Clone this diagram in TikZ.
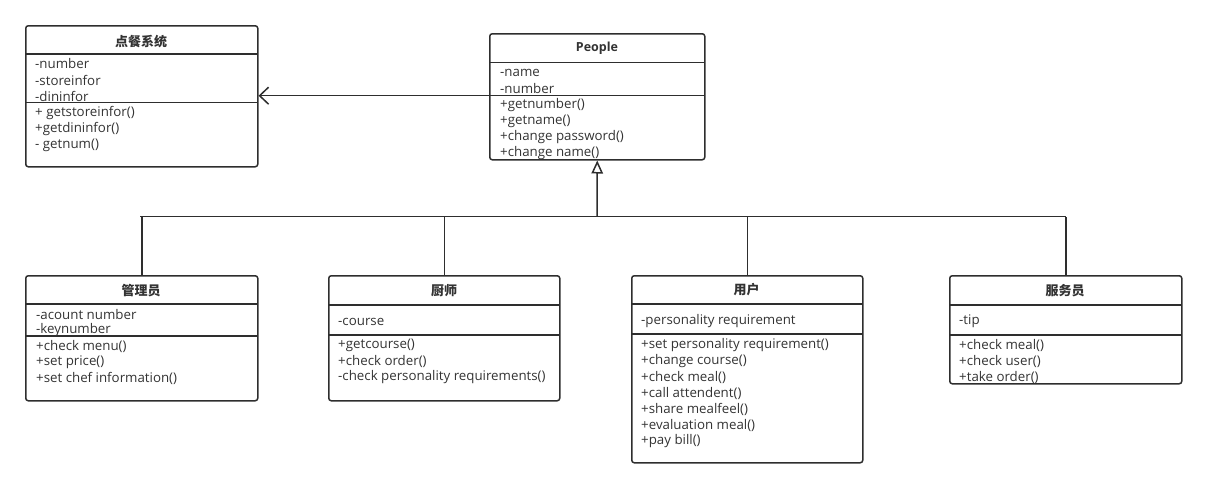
\documentclass[tikz,border=0pt]{standalone}
\usepackage{fontspec}
\setmainfont{Open Sans}
\newfontfamily\cjk{Noto Sans CJK SC}
\usetikzlibrary{arrows.meta}
\definecolor{ink}{HTML}{2E2E2E}
\definecolor{txt}{HTML}{333333}
\tikzset{
  clsbox/.style={draw=ink, line width=1.5pt, rounded corners=2.5pt},
  divline/.style={draw=ink, line width=1.5pt},
  mtext/.style={anchor=west, inner sep=0pt, text=txt, font=\fontsize{13.3}{15}\selectfont},
  ttext/.style={anchor=center, inner sep=0pt, text=txt, font=\fontsize{12.5}{15}\selectfont\bfseries},
  ctext/.style={anchor=center, inner sep=0pt, text=txt, font=\cjk\fontsize{13}{15}\selectfont\bfseries},
  conn/.style={draw=ink, line width=1.5pt},
}
\begin{document}
\begin{tikzpicture}[x=1pt, y=-1pt]
\useasboundingbox (0,0) rectangle (1206,488);

% ---------- 点餐系统 ----------
\node[clsbox, minimum width=232pt, minimum height=141pt, anchor=north west] (sys) at (25,25) {};
\draw[divline] (25,54) -- (257,54);
\draw[divline] (25,102.7) -- (257,102.7);
\node[ctext] (sysT) at (141,41.5) {点餐系统};
\node[mtext] (sysA1) at (35,63.5) {-number};
\node[mtext] (sysA2) at (35,80) {-storeinfor};
\node[mtext] (sysA3) at (35,96) {-dininfor};
\node[mtext] (sysM1) at (35,113) {+ getstoreinfor()};
\node[mtext] (sysM2) at (35,129) {+getdininfor()};
\node[mtext] (sysM3) at (35,145) {- getnum()};

% ---------- People ----------
\node[clsbox, minimum width=215pt, minimum height=126pt, anchor=north west] (peo) at (489,33) {};
\draw[divline] (489,62.5) -- (704,62.5);
\draw[divline] (489,95.5) -- (704,95.5);
\node[ttext] (peoT) at (597,48.5) {People};
\node[mtext] (peoA1) at (500,72.5) {-name};
\node[mtext] (peoA2) at (500,88.5) {-number};
\node[mtext] (peoM1) at (500,105) {+getnumber()};
\node[mtext] (peoM2) at (500,121) {+getname()};
\node[mtext] (peoM3) at (500,137) {+change password()};
\node[mtext] (peoM4) at (500,153) {+change name()};

% ---------- 管理员 ----------
\node[clsbox, minimum width=232pt, minimum height=125pt, anchor=north west] (adm) at (25,275) {};
\draw[divline] (25,304) -- (257,304);
\draw[divline] (25,336) -- (257,336);
\node[ctext] (admT) at (141,290.5) {管理员};
\node[mtext] (admA1) at (36,314.5) {-acount number};
\node[mtext] (admA2) at (36,330) {-keynumber};
\node[mtext] (admM1) at (36,346.5) {+check menu()};
\node[mtext] (admM2) at (36,362.5) {+set price()};
\node[mtext] (admM3) at (36,378.5) {+set chef information()};

% ---------- 厨师 ----------
\node[clsbox, minimum width=231pt, minimum height=125pt, anchor=north west] (chf) at (328,275) {};
\draw[divline] (328,305) -- (559,305);
\draw[divline] (328,335) -- (559,335);
\node[ctext] (chfT) at (444,290.5) {厨师};
\node[mtext] (chfA1) at (338,321.5) {-course};
\node[mtext] (chfM1) at (338,345) {+getcourse()};
\node[mtext] (chfM2) at (338,361) {+check order()};
\node[mtext] (chfM3) at (338,377) {-check personality requirements()};

% ---------- 用户 ----------
\node[clsbox, minimum width=231pt, minimum height=187pt, anchor=north west] (usr) at (631,275) {};
\draw[divline] (631,304) -- (862,304);
\draw[divline] (631,334) -- (862,334);
\node[ctext] (usrT) at (746.5,290) {用户};
\node[mtext] (usrA1) at (641,321.5) {-personality requirement};
\node[mtext] (usrM1) at (641,345) {+set personality requirement()};
\node[mtext] (usrM2) at (641,361) {+change course()};
\node[mtext] (usrM3) at (641,377) {+check meal()};
\node[mtext] (usrM4) at (641,393) {+call attendent()};
\node[mtext] (usrM5) at (641,409) {+share mealfeel()};
\node[mtext] (usrM6) at (641,425) {+evaluation meal()};
\node[mtext] (usrM7) at (641,441) {+pay bill()};

% ---------- 服务员 ----------
\node[clsbox, minimum width=232pt, minimum height=108pt, anchor=north west] (wtr) at (949,275) {};
\draw[divline] (949,305) -- (1181,305);
\draw[divline] (949,335) -- (1181,335);
\node[ctext] (wtrT) at (1065,290.5) {服务员};
\node[mtext] (wtrA1) at (959,321.5) {-tip};
\node[mtext] (wtrM1) at (959,345) {+check meal()};
\node[mtext] (wtrM2) at (959,361) {+check user()};
\node[mtext] (wtrM3) at (959,377) {+take order()};

% ---------- connectors ----------
\coordinate (bus) at (597,216.7);
\coordinate (busL) at (141,216.7);
\coordinate (busR) at (1065,216.7);
\draw[conn, line cap=rect] (busL) -- (busR);
\draw[conn] (adm.north) -- (adm.north |- bus);
\draw[conn] (chf.north) -- (chf.north |- bus);
\draw[conn] (usr.north) -- (usr.north |- bus);
\draw[conn] (wtr.north) -- (wtr.north |- bus);
\draw[conn, -{Triangle[open, length=13pt, width=11.5pt, line width=1.5pt]}] (bus) -- (peo.south);
\draw[conn, -{Straight Barb[length=9pt, width=17pt, line width=1.5pt]}] (peo.west |- 0,95.7) -- (sys.east |- 0,95.7);
\end{tikzpicture}
\end{document}
